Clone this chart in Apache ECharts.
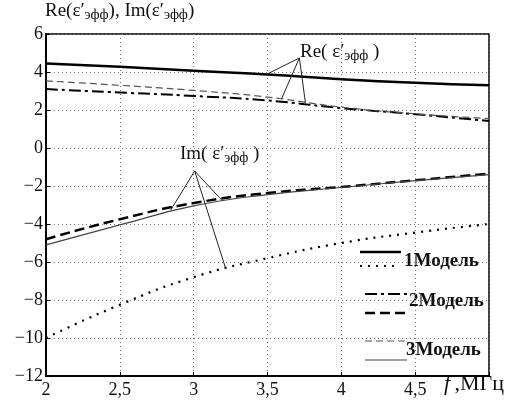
<!DOCTYPE html>
<html>
<head>
<meta charset="utf-8">
<script src="https://cdn.jsdelivr.net/npm/echarts@6/dist/echarts.min.js"></script>
<style>
  html, body { margin: 0; padding: 0; background: #fff; overflow: hidden; }
  #main { width: 529px; height: 406px; }
</style>
</head>
<body>
<div id="main"></div>
<script>
// частота, МГц
var freq = [2, 2.5, 3, 3.5, 4, 4.5, 5];
var xTickLabels = ['2', '2,5', '3', '3,5', '4', '4,5', ''];

// Re(e'эфф)
var re1 = [4.45, 4.27, 4.07, 3.87, 3.62, 3.43, 3.3];
var re2 = [3.1, 2.92, 2.74, 2.5, 2.1, 1.78, 1.42];
var re3 = [3.53, 3.3, 3.03, 2.68, 2.15, 1.8, 1.55];
// Im(e'эфф)
var im1 = [-10.0, -8.25, -6.8, -5.8, -5.0, -4.45, -4.0];
var im2 = [-4.8, -3.75, -2.9, -2.37, -2.05, -1.7, -1.35];
var im3 = [-5.1, -4.05, -3.05, -2.45, -2.08, -1.72, -1.4];

// выноски: вершина и концы линий
var reCallout = [[3.716, 4.74], [3.5, 3.9], [3.595, 2.58], [3.757, 2.37]];
var imCallout = [[3.007, -1.21], [2.845, -3.26], [3.196, -2.79], [3.216, -6.32]];

function pairs(ys) {
    var out = [];
    for (var i = 0; i < freq.length; i++) out.push([freq[i], ys[i]]);
    return out;
}
function callout(pts) {
    var lines = [];
    for (var i = 1; i < pts.length; i++) {
        lines.push([{ coord: pts[0] }, { coord: pts[i] }]);
    }
    return lines;
}

var chart = echarts.init(document.getElementById('main'), null, { renderer: 'canvas' });
var serif = '"Liberation Serif", "DejaVu Serif", serif';

var option = {
    animation: false,
    backgroundColor: '#fff',
    textStyle: { fontFamily: serif },
    grid: { left: 46, right: 40, top: 34, bottom: 30, show: true, borderColor: '#000', borderWidth: 1.5 },
    xAxis: {
        type: 'value',
        min: 2, max: 5, interval: 0.5,
        axisLine: { show: true, onZero: false, lineStyle: { color: '#000', width: 2 } },
        axisTick: { inside: true, length: 4, lineStyle: { color: '#000' } },
        axisLabel: {
            color: '#111', fontSize: 18, fontFamily: serif, margin: 5,
            formatter: function (v) {
                var i = freq.indexOf(v);
                return i >= 0 ? xTickLabels[i] : '';
            }
        },
        splitLine: { show: true, lineStyle: { color: '#777', type: [1, 3], width: 1 } }
    },
    yAxis: {
        type: 'value',
        min: -12, max: 6, interval: 2,
        axisLine: { show: true, onZero: false, lineStyle: { color: '#000', width: 2 } },
        axisTick: { inside: true, length: 4, lineStyle: { color: '#000' } },
        axisLabel: {
            color: '#111', fontSize: 18, fontFamily: serif, margin: 3,
            formatter: function (v) { return String(v).replace('-', '\u2212'); }
        },
        splitLine: { show: true, lineStyle: { color: '#777', type: [1, 3], width: 1 } }
    },
    series: [
        { name: 'Re1', type: 'line', data: pairs(re1), smooth: true, symbol: 'none',
          lineStyle: { color: '#000', width: 2.5 },
          markLine: { silent: true, symbol: 'none', label: { show: false },
                      lineStyle: { color: '#222', width: 1, type: 'solid' },
                      data: callout(reCallout) } },
        { name: 'Re2', type: 'line', data: pairs(re2), smooth: true, symbol: 'none',
          lineStyle: { color: '#000', width: 2, type: [12, 4, 3, 4] } },
        { name: 'Re3', type: 'line', data: pairs(re3), smooth: true, symbol: 'none',
          lineStyle: { color: '#555', width: 1.2, type: [7, 4] } },
        { name: 'Im1', type: 'line', data: pairs(im1), smooth: true, symbol: 'none',
          lineStyle: { color: '#000', width: 2.2, type: [2, 6] },
          markLine: { silent: true, symbol: 'none', label: { show: false },
                      lineStyle: { color: '#222', width: 1, type: 'solid' },
                      data: callout(imCallout) } },
        { name: 'Im2', type: 'line', data: pairs(im2), smooth: true, symbol: 'none',
          lineStyle: { color: '#000', width: 2.5, type: [10, 5] } },
        { name: 'Im3', type: 'line', data: pairs(im3), smooth: true, symbol: 'none',
          lineStyle: { color: '#444', width: 1.2 } }
    ],
    graphic: [
        { type: 'text', left: 45, top: 2, style: {
            text: 'Re(ε′{s|эфф}), Im(ε′{s|эфф})',
            font: '19px ' + serif, fill: '#111',
            rich: { s: { fontSize: 14, fontFamily: serif, padding: [7, 0, 0, 0] } }
        } },
        { type: 'text', left: 300, top: 43, style: {
            text: 'Re( ε′{s|эфф} )', font: '19px ' + serif, fill: '#111',
            rich: { s: { fontSize: 14, fontFamily: serif, padding: [7, 0, 0, 0] } }
        } },
        { type: 'text', left: 180, top: 145, style: {
            text: 'Im( ε′{s|эфф} )', font: '19px ' + serif, fill: '#111',
            rich: { s: { fontSize: 14, fontFamily: serif, padding: [7, 0, 0, 0] } }
        } },
        { type: 'text', left: 444, top: 373, style: {
            text: '{i|f}\u2009,МГц', font: '22px ' + serif, fill: '#111',
            rich: { i: { fontStyle: 'italic', fontSize: 22, fontFamily: serif } }
        } },
        // легенда
        { type: 'line', shape: { x1: 360, y1: 252, x2: 401, y2: 252 }, style: { stroke: '#000', lineWidth: 2.5 } },
        { type: 'line', shape: { x1: 360, y1: 266, x2: 396, y2: 266 }, style: { stroke: '#000', lineWidth: 2.2, lineDash: [2, 6] } },
        { type: 'text', left: 404, top: 252, style: { text: '1Модель', font: 'bold 19px ' + serif, fill: '#111' } },
        { type: 'line', shape: { x1: 365, y1: 294, x2: 407, y2: 294 }, style: { stroke: '#000', lineWidth: 2, lineDash: [12, 4, 3, 4] } },
        { type: 'line', shape: { x1: 365, y1: 313, x2: 407, y2: 313 }, style: { stroke: '#000', lineWidth: 2.5, lineDash: [10, 5] } },
        { type: 'text', left: 409, top: 292, style: { text: '2Модель', font: 'bold 19px ' + serif, fill: '#111' } },
        { type: 'line', shape: { x1: 365, y1: 341, x2: 407, y2: 341 }, style: { stroke: '#555', lineWidth: 1.2, lineDash: [7, 4] } },
        { type: 'line', shape: { x1: 365, y1: 360, x2: 407, y2: 360 }, style: { stroke: '#444', lineWidth: 1.2 } },
        { type: 'text', left: 406, top: 341, style: { text: '3Модель', font: 'bold 19px ' + serif, fill: '#111' } }
    ]
};

chart.setOption(option);
</script>
</body>
</html>
